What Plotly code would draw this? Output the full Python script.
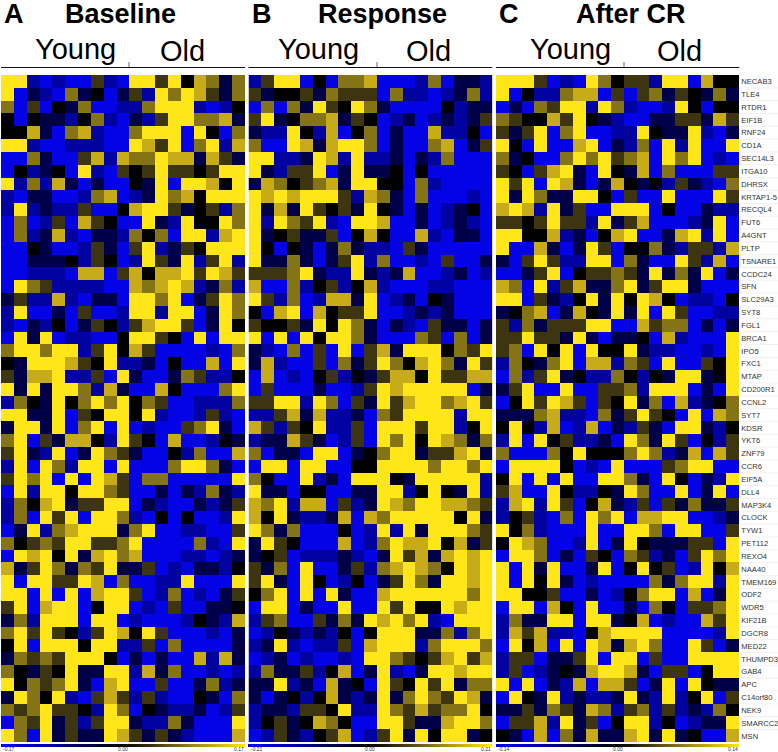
import plotly.graph_objects as go

W, H = 778, 752

genes = ["NECAB3","TLE4","RTDR1","EIF1B","RNF24","CD1A","SEC14L3","ITGA10","DHRSX","KRTAP1-5",
         "RECQL4","FUT6","A4GNT","PLTP","TSNARE1","CCDC24","SFN","SLC29A3","SYT8","FGL1",
         "BRCA1","IPO5","FXC1","MTAP","CD200R1","CCNL2","SYT7","KDSR","YKT6","ZNF79",
         "CCR6","EIF5A","DLL4","MAP3K4","CLOCK","TYW1","PET112","REXO4","NAA40","TMEM169",
         "ODF2","WDR5","KIF21B","DGCR8","MED22","THUMPD3","GAB4","APC","C14orf80","NEK9",
         "SMARCC2","MSN"]

# Cell shades: B blue, M mid navy, N dark navy, K black,
# D dark olive, O olive, G gold, Y bright yellow. 19 samples per gene.
level = {"B": -1.0, "M": -0.62, "N": -0.27, "K": 0.0, "D": 0.25, "O": 0.5, "G": 0.75, "Y": 1.0}

baseline = [
"YYMBMBBDMBYYDYKGONO","YBNMBONKBNDMYOYGDNO","OBDBKNOBBMMOYYYMBMK","KBKNNMKOMBNMDYYOOGN",
"KKGNBOGMBBOYYYBYKBO","YYMBBMMMBBYGDYBOYMG","BBONBBDGMGOOYGGNGDN","BKMNKBYMBDKDYDDKDYY",
"YMOMGNBNBBKNYBYYGKY","MBNNBBMOGBMNYOGKYYY","MYMNMMDBBKGYYDNKDMO","BOBMDBGDKBBYNMYKKYO",
"BOMNGMBNNMOKOBYYMGY","BBKNBBMDNBDYMNDKYYY","BBNNNKMDKBMYDNYMDYM","BBMMMBGGBDGKGGYDYGD",
"BYODMMMMBBGOGYGMNOM","NDMMGMBNNBYYOYBNDYO","MYBBNBDBBMYYMYYBNYO","MBNMKBNDKMDGYYDBNYK",
"BYNYBMMBBKYYDKBYBYY","OYYOYYMDYKGDBBBBMBO","KNYYYGDKYMMNBKBBGBY","DNGGYMMDBYNBBNODMMK",
"YNYNYYOMGNBBGKBBBOY","MOKNYKOYOYKODBBMMMO","YYNNYBDKYYKYMBBMDMB","NYYNYBOYBYBMBBDOYNB",
"OYBDNGGKMYDKBGBBMKN","DYNMYBNYODNBBKMOBBG","MYBYOMYYBYBBBOYYONB","DYOYBYBYGDBOOBBBBBY",
"BYMYYKYYODBBNBNMONM","MOKGYNDDYYBNMBBNMND","MOBYDYBYYOMBKBKBBMY","BNYMOGYYYNOYBBMMBBD",
"OKDODYYDDOYBBBBOMBY","BYGYKYNGYOGBBBMMBMN","GNDYONODYNNDBMBNNMK","YBYYDDYGBOBBMMYBBBY",
"YYBYBYBGYYDBMOBMBND","DYBGYYBKYYBMBDBBNNK","NOMYYYBYYBMBBBMKNMG","OYDYDKMDYGKYDBBBMBN",
"KYBYYYKYYMMDBOBBBBN","NODODYYYKBNBNBBGMGN","OKNDKYNNYYMGNOBBMBM","YKODOYNBGYBBDBBNOMN",
"NYOKYMBDGDMDMBBKNBO","ODOYDDKMYOBKNMMNBMD","BODYNDMDYYNMMONBBBY","YOBYNDNNYGDNDNMBBBG",
]

response = [
"MDYYBKBOOGBBBMOBNNM","DNKKDNODDDBOMMBMNOM","BOBONYDKYONBBBBKMNN","DYNKOOGNDKBMNBMNMND",
"NMMYKMGBKOBNBBGMMKB","OBBYGNGYYOBNBBOGBND","YYMMNYGMYMMNBNMOBBB","YNMDDYBNYNNKBKBBBBB",
"NGOKDOGNYYKKBOMBBBB","YGYGYYYDMGONBOBBBMB","YNGNYDKDNYKNBNBMNKB","YMYODYMBYYGBBNBMNMB",
"YNKDNNDBKGKBBGMBNNB","YKBKNBNONMMBDNBBBBB","YNNONBNDYMOBBMBDBBN","DDDOYNMMYNMNGBBMNBM",
"GBBOMKDMKGMBBBMMBBB","YDMOBMGGNYBMNBKNBBB","KBGYBGKDDYBBMNMNBBB","DKKDNYKYONBNMBDNNBN",
"YBYBYKYYONBBBODBOBN","NMBOBDBYBDGNYYYKODY","NGMBBDBONDYOKGYONYD","BGBMBKDMKNDGGKYDDGG",
"BDBBBNBBMDYGYYYYYBN","DDYYMYOBDNYDGYYOGYD","MMDGNGMMNBODYYYYMYY","GDMDKYMMDBYYYDYYMKY",
"MNNGDNBMDBYOYKYGONO","OBNNBYYBNKOYYNDDGYN","BYYBYYBBKKYYYYOYYOY","OKBBYMNBYYYKNYYYYYM",
"YNNBKKBBNNYYMKYKNYM","GOYMGGBDMNYGOYYGGOD","GKYNMMNGBGOYYYYYKYN","YONOBBBKBMYMYNYYYOD",
"NYDKBBBGBMOYGGYKGND","NKDBMMMNMBNYDGNGYGY","DNOBYBBNDMOGYGOKYGY","DYNBYKBMKBNDYONYYGY",
"KOYBYBYNBBGYYYYYYOY","BYYBNBBYBBYDYKKYGYY","MDOBBDNONYGYOYMBYYY","BMKNMNMKBKYYYNNOMOY",
"MNYMBMMDBGYYYMOYYYO","BMNBMBBMBYYODKDGYDG","MONNDMKGBNYMBNYYGYY","NNYMNBGNKBYDKYDYNOO",
"NBNKMKGNMNYNOYODYGN","MNNMDDKYMMYODGDOOYK","MKDNKGOKBBYYDNNGYYO","BMDNMKDGBMDYNYKYYNK",
]

after_cr = [
"YYYDBMBYOKDDMYYBGKK","YBKMMOGGBDBDONDKNON","BNBODYYMYOMBBMYKBKK","ODKKGDYKNMBBNNDDNGD",
"DNDYBOYBBMMYKNNYMBN","YKBYBBGYBNMOBYMYBBY","ONKBBOYOYDOGBYOYBMB","DKBDGYNBYKNGBOBBBDD",
"YDYBYGNBNGKNKMDNMBO","YNYONNYYKBDBBYBBBYD","GYGMYNDBBYYYBKBBNMM","DDKDYDDMYNDGBBBMNYB",
"YYKKGMNBKGYBBNGYMYB","YBBGNBNYDBKKONMDDMG","NBDYDMMYYBONBBYDMGB","BBNDYBKDDODNYNONYBN",
"GOBYMDGNNOYNDYYNBBB","YYBDNMKYNYKYGKBMMBK","NKOGBNGKNYNYBYDBBMM","DMONDDDYYBBGDOOBNBN",
"DDYDDNYNBNNKBGMBBBY","DOBYKYBYKKYNMMBBMBY","MOKNOYBGGMODBYBBDKY","BOMDYNKMMOKMKNYYNKY",
"NDYBBYBBDDOMYYYBNBY","BKYDYGDBDKYNOBGMNKO","NNNOGMMBONDYDKBYBGO","KYKMGBMGBNMDNBYYNMK",
"MYBYKDMMNBYONYDBKMD","OBBBOKYKKKOYOMNGBGD","BYYYYKBMBYBBBDOYYBB","KYBYBYBBYYONBYKBNMY",
"DGBBYKMMKNYOBBYBNYB","MGYMYDBKGNMDBDNONND","MKDMBOBYOYBGGYYBBMN","YKOMBBBYBBYYOBYYBBD",
"KYGOBBMYBNYKNNNDDBY","BYYOBNBDKBODMNBDYOY","YBYNYBBNYBKYKDBMYKG","YBYKYNBMBBBBONOYYMY",
"YYKKDBBNBMKOYYBGBNY","BYYBGKBYBBNBOKBDDOY","MONNYYBYYNKGBMBBGDY","MGDGMMBKGYYYYBBBBMY",
"BYKGBYBYGNGYOBBYDBN","MDDBNNDYBYYBDBBYYYY","MDBMNKNGYYGNBDDBKYY","YBYBNMGBGGDBNYBYKNN",
"BYKNYMNMMNYNMYMKYBD","NNDNODNGOMDOMDMNMOK","BDDGMYNDBKYYMKBMNNY","KNBGBONGNNGYNYNKBBG",
]

panels = [baseline, response, after_cr]
panel_names = ["Baseline", "Response", "After CR"]
panel_letters = ["A", "B", "C"]
scale_max = [0.17, 0.21, 0.14]

# layout in pixels
x_spans = [(1, 245), (248.5, 492.3), (496, 739.3)]
y_top, y_bot = 75, 742.3
title_x = [120, 382, 631]
letter_x = [13.5, 261.5, 509.5]
young_x = [75, 318, 570]
old_x = [182, 428, 679]
mid_tick = [129, 377, 624]


def px(x):
    return x / W


def py(y):
    return 1 - y / H


colorscale = [[0, "#0303e6"], [0.19, "#0202a0"], [0.365, "#000048"], [0.5, "#000000"],
              [0.625, "#3d3510"], [0.75, "#857415"], [0.875, "#c7ab18"], [1, "#ffe619"]]

fig = go.Figure()
for i, rows in enumerate(panels):
    assert len(rows) == len(genes)
    assert all(len(r) == 19 for r in rows)
    s = scale_max[i]
    z = [[level[c] * s for c in r] for r in rows]
    n = "" if i == 0 else str(i + 1)
    x0, x1 = x_spans[i]
    fig.add_trace(go.Heatmap(
        z=z, y=genes, xaxis="x" + n, yaxis="y" + n,
        zmin=-s, zmax=s, colorscale=colorscale,
        colorbar=dict(orientation="h", x=px((x0 + x1) / 2), xanchor="center",
                      xref="paper", yref="paper", y=py(744.3), yanchor="top",
                      len=x1 - x0, lenmode="pixels", thickness=3, thicknessmode="pixels",
                      outlinewidth=0, ticks="", xpad=0, ypad=0, showticklabels=False),
    ))
    fig.update_layout({
        "xaxis" + n: dict(domain=[px(x0), px(x1)], visible=False, range=[-0.5, 18.5], anchor="y" + n),
        "yaxis" + n: dict(domain=[py(y_bot), py(y_top)], autorange="reversed", anchor="x" + n,
                          type="category", showgrid=False, zeroline=False, showline=False, ticks="",
                          side="right", showticklabels=(i == 2), ticklabelstandoff=1,
                          tickfont=dict(family="Liberation Sans", size=7.6, color="#333333"),
                          tickmode="array", tickvals=genes, ticktext=genes),
    })

shapes = []
for i in range(3):
    x0, x1 = x_spans[i]
    shapes.append(dict(type="line", xref="paper", yref="paper", x0=px(x0), x1=px(x1),
                       y0=py(67.5), y1=py(67.5), line=dict(color="#111111", width=1.2)))
    shapes.append(dict(type="line", xref="paper", yref="paper", x0=px(mid_tick[i]), x1=px(mid_tick[i]),
                       y0=py(62), y1=py(67.5), line=dict(color="#444444", width=0.8)))
# faint separators beside the gene labels
for r in range(1, len(genes)):
    yy = y_top + r * (y_bot - y_top) / len(genes)
    shapes.append(dict(type="line", xref="paper", yref="paper", x0=px(739.5), x1=1,
                       y0=py(yy), y1=py(yy), line=dict(color="#e8e8e8", width=0.6)))

ann = []


def text(x, y, t, size, bold=False, anchor="center", color="#000000"):
    ann.append(dict(xref="paper", yref="paper", x=px(x), y=py(y), text=f"<b>{t}</b>" if bold else t,
                    showarrow=False, xanchor=anchor, yanchor="middle", xshift=0, borderpad=0,
                    font=dict(family="Liberation Sans", size=size, color=color)))


for i in range(3):
    text(letter_x[i], 14.5, panel_letters[i], 27, True)
    text(title_x[i], 14.5, panel_names[i], 27, True)
    text(young_x[i], 49, "Young", 29)
    text(old_x[i], 51, "Old", 29)
    s = scale_max[i]
    x0, x1 = x_spans[i]
    text(x0 + 1, 749, f"{-s:.2f}", 5, anchor="left", color="#333333")
    text((x0 + x1) / 2, 749, "0.00", 5, color="#333333")
    text(x1, 749, f"{s:.2f}", 5, anchor="right", color="#333333")

fig.update_layout(width=W, height=H, margin=dict(l=0, r=0, t=0, b=0, autoexpand=False),
                  paper_bgcolor="white", plot_bgcolor="white", shapes=shapes, annotations=ann)
fig.write_html("out.html", config={"displayModeBar": False},
               post_script="document.body.style.margin='0';")
